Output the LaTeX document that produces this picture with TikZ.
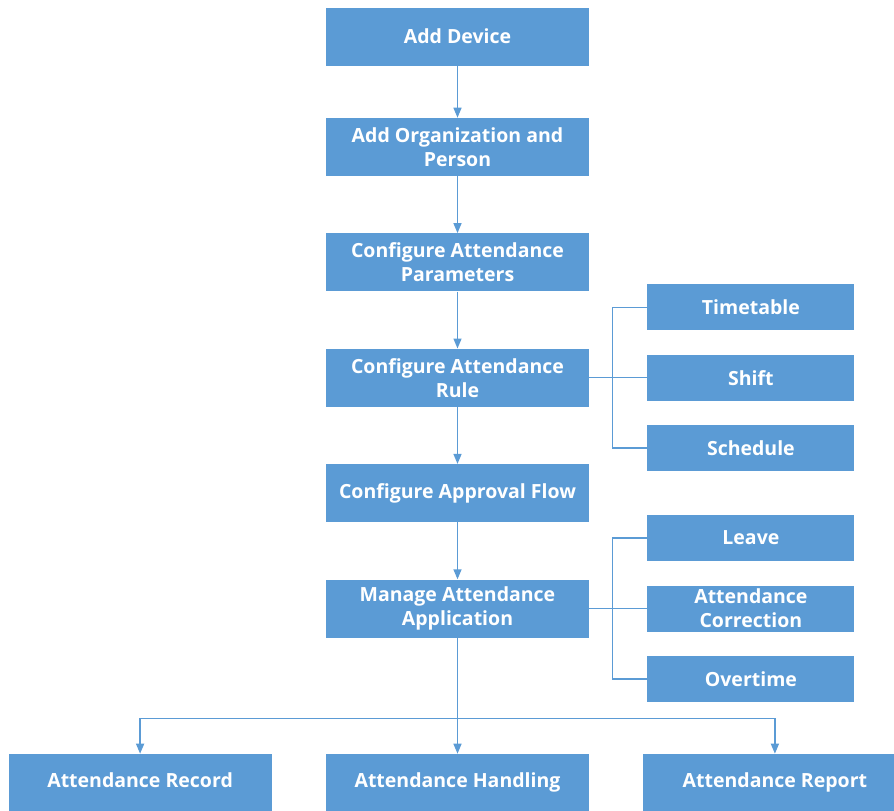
\documentclass[tikz,border=0pt]{standalone}
\usepackage{fontspec}
\setmainfont{Open Sans}
\usetikzlibrary{arrows.meta, positioning}
\definecolor{boxblue}{HTML}{5B9BD5}

\begin{document}
\begin{tikzpicture}[
    x=1pt, y=-1pt,
    node distance=57pt,
    mainbox/.style={rectangle, fill=boxblue, text=white, font=\bfseries\fontsize{19.5}{24}\selectfont, align=center, minimum width=263pt, minimum height=58pt, inner sep=0pt},
    subbox/.style={mainbox, minimum width=207pt, minimum height=46pt},
    endbox/.style={mainbox, text height=14pt, text depth=5pt},
    arrow/.style={boxblue, line width=1.4pt, ->, >={Triangle[length=10pt,width=8pt]}},
    link/.style={boxblue, line width=1.4pt}
]
    \useasboundingbox (0,0) rectangle (894,811);

    \node (device) [mainbox] at (457.5,36.5) {Add Device};
    \node (org) [mainbox, below=52pt of device] {Add Organization and\\Person};
    \node (params) [mainbox, below=of org] {Configure Attendance\\Parameters};
    \node (rule) [mainbox, below=of params] {Configure Attendance\\Rule};
    \node (flow) [mainbox, below=of rule] {Configure Approval Flow};
    \node (manage) [mainbox, below=of flow] {Manage Attendance\\Application};

    \node (shift) [subbox, right=58pt of rule] {Shift};
    \node (timetable) [subbox, above=24pt of shift] {Timetable};
    \node (schedule) [subbox, below=24pt of shift] {Schedule};

    \node (correction) [subbox, right=58pt of manage] {Attendance\\Correction};
    \node (leave) [subbox, above=24pt of correction] {Leave};
    \node (overtime) [subbox, below=24pt of correction] {Overtime};

    \node (handling) [endbox, below=116pt of manage] {Attendance Handling};
    \node (record) [endbox, left=54pt of handling] {Attendance Record};
    \node (report) [endbox, right=54pt of handling] {Attendance Report};

    \draw [arrow] (device) -- (org);
    \draw [arrow] (org) -- (params);
    \draw [arrow] (params) -- (rule);
    \draw [arrow] (rule) -- (flow);
    \draw [arrow] (flow) -- (manage);
    \draw [arrow] (manage) -- (handling);

    % brackets to the right
    \coordinate (rulefork) at ([xshift=23pt]rule.east);
    \draw [link] (rule) -- (shift);
    \draw [link] (timetable.west) -| (rulefork) |- (schedule.west);
    \coordinate (managefork) at ([xshift=23pt]manage.east);
    \draw [link] (manage) -- (correction);
    \draw [link] (leave.west) -| (managefork) |- (overtime.west);

    % bus to the bottom row
    \coordinate (bus) at ([yshift=-81pt]manage.south);
    \draw [arrow] (bus) -| (record);
    \draw [arrow] (bus) -| (report);
\end{tikzpicture}
\end{document}
